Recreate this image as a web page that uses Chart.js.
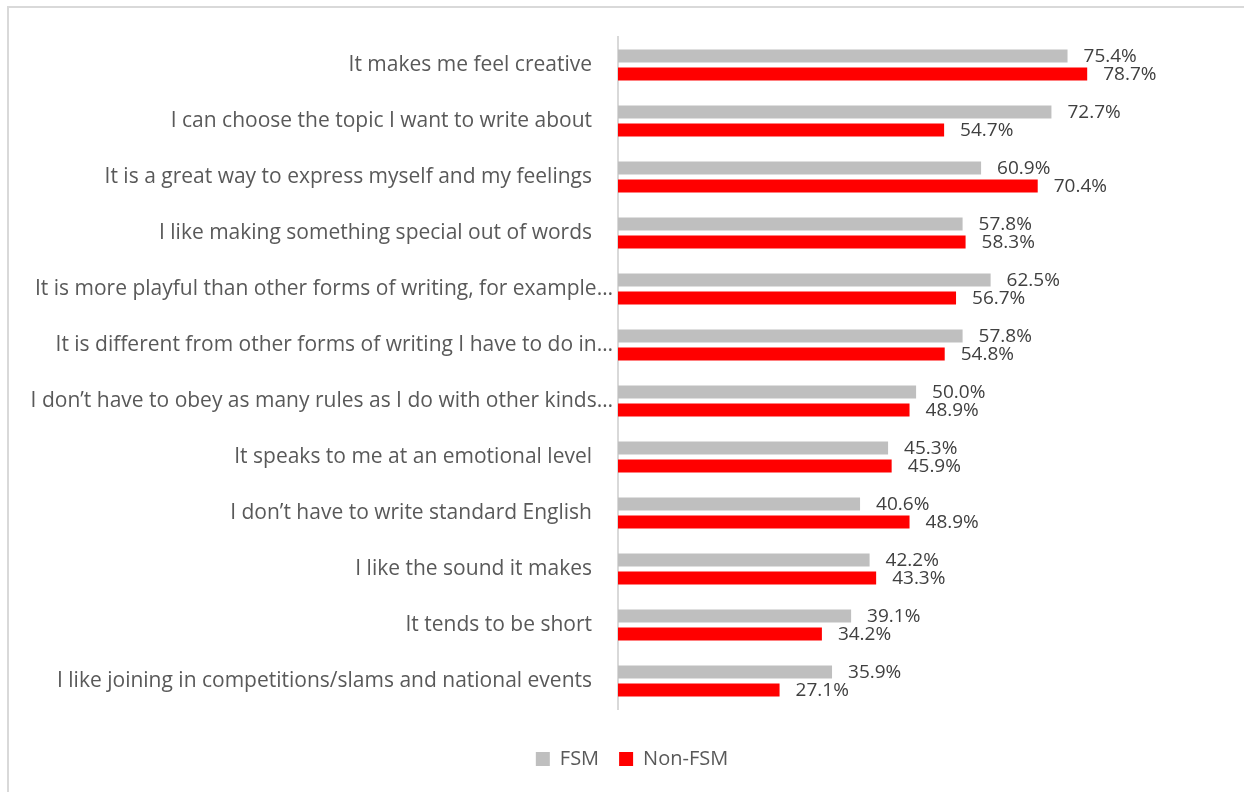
<!DOCTYPE html>
<html>
<head>
<meta charset="utf-8">
<script src="https://cdn.jsdelivr.net/npm/chart.js@4.4.1/dist/chart.umd.min.js"></script>
<style>
  html, body { margin: 0; padding: 0; background: #fff; overflow: hidden; }
  #chart { display: block; }
</style>
</head>
<body>
<canvas id="chart" width="1244" height="792"></canvas>
<script>
const reasons = [
  'It makes me feel creative',
  'I can choose the topic I want to write about',
  'It is a great way to express myself and my feelings',
  'I like making something special out of words',
  'It is more playful than other forms of writing, for example…',
  'It is different from other forms of writing I have to do in…',
  'I don’t have to obey as many rules as I do with other kinds…',
  'It speaks to me at an emotional level',
  'I don’t have to write standard English',
  'I like the sound it makes',
  'It tends to be short',
  'I like joining in competitions/slams and national events',
];

const fsm = [75.4, 72.7, 60.9, 57.8, 62.5, 57.8, 50.0, 45.3, 40.6, 42.2, 39.1, 35.9];
const nonFsm = [78.7, 54.7, 70.4, 58.3, 56.7, 54.8, 48.9, 45.9, 48.9, 43.3, 34.2, 27.1];

const FONT = 'Open Sans';

// light outline along the top and left of the chart box
const chartFrame = {
  id: 'chartFrame',
  beforeDraw(chart) {
    const { ctx } = chart;
    ctx.save();
    ctx.strokeStyle = '#d9d9d9';
    ctx.lineWidth = 2;
    ctx.beginPath();
    ctx.moveTo(8, chart.height);
    ctx.lineTo(8, 7);
    ctx.lineTo(chart.width, 7);
    ctx.stroke();
    ctx.restore();
  },
};

// value labels to the right of each bar
const barValues = {
  id: 'barValues',
  afterDatasetsDraw(chart) {
    const { ctx } = chart;
    ctx.save();
    ctx.font = `19px "${FONT}"`;
    ctx.fillStyle = '#404040';
    ctx.textAlign = 'left';
    ctx.textBaseline = 'middle';
    chart.data.datasets.forEach((ds, i) => {
      chart.getDatasetMeta(i).data.forEach((bar, j) => {
        ctx.fillText(ds.data[j].toFixed(1) + '%', bar.x + 16, bar.y + 1);
      });
    });
    ctx.restore();
  },
};

new Chart(document.getElementById('chart'), {
  type: 'bar',
  data: {
    labels: reasons,
    datasets: [
      {
        label: 'FSM',
        data: fsm,
        backgroundColor: '#bfbfbf',
        categoryPercentage: 0.643,
        barPercentage: 0.72,
      },
      {
        label: 'Non-FSM',
        data: nonFsm,
        backgroundColor: '#ff0000',
        categoryPercentage: 0.643,
        barPercentage: 0.72,
      },
    ],
  },
  options: {
    indexAxis: 'y',
    responsive: false,
    animation: false,
    layout: { padding: { top: 37, left: 20, right: 0, bottom: 13 } },
    scales: {
      x: {
        min: 0,
        max: 105,
        ticks: { display: false },
        grid: { display: false },
        border: { display: false },
        // leaves a gap between the bars and the legend
        afterFit: (scale) => { scale.height = 20; },
      },
      y: {
        grid: { display: false, drawTicks: false },
        border: { display: true, color: '#d9d9d9', width: 2 },
        ticks: {
          color: '#595959',
          padding: 5,
          font: { family: FONT, size: 21 },
          callback(value) {
            const label = this.getLabelForValue(value);
            return label.endsWith('…') ? label : label + '\u2002\u2002';
          },
        },
        afterFit: (scale) => { scale.width = 598; },
      },
    },
    plugins: {
      legend: {
        position: 'bottom',
        labels: {
          color: '#595959',
          boxWidth: 14,
          boxHeight: 14,
          padding: 20,
          font: { family: FONT, size: 20 },
        },
      },
      tooltip: { enabled: false },
    },
  },
  plugins: [chartFrame, barValues],
});
</script>
</body>
</html>
